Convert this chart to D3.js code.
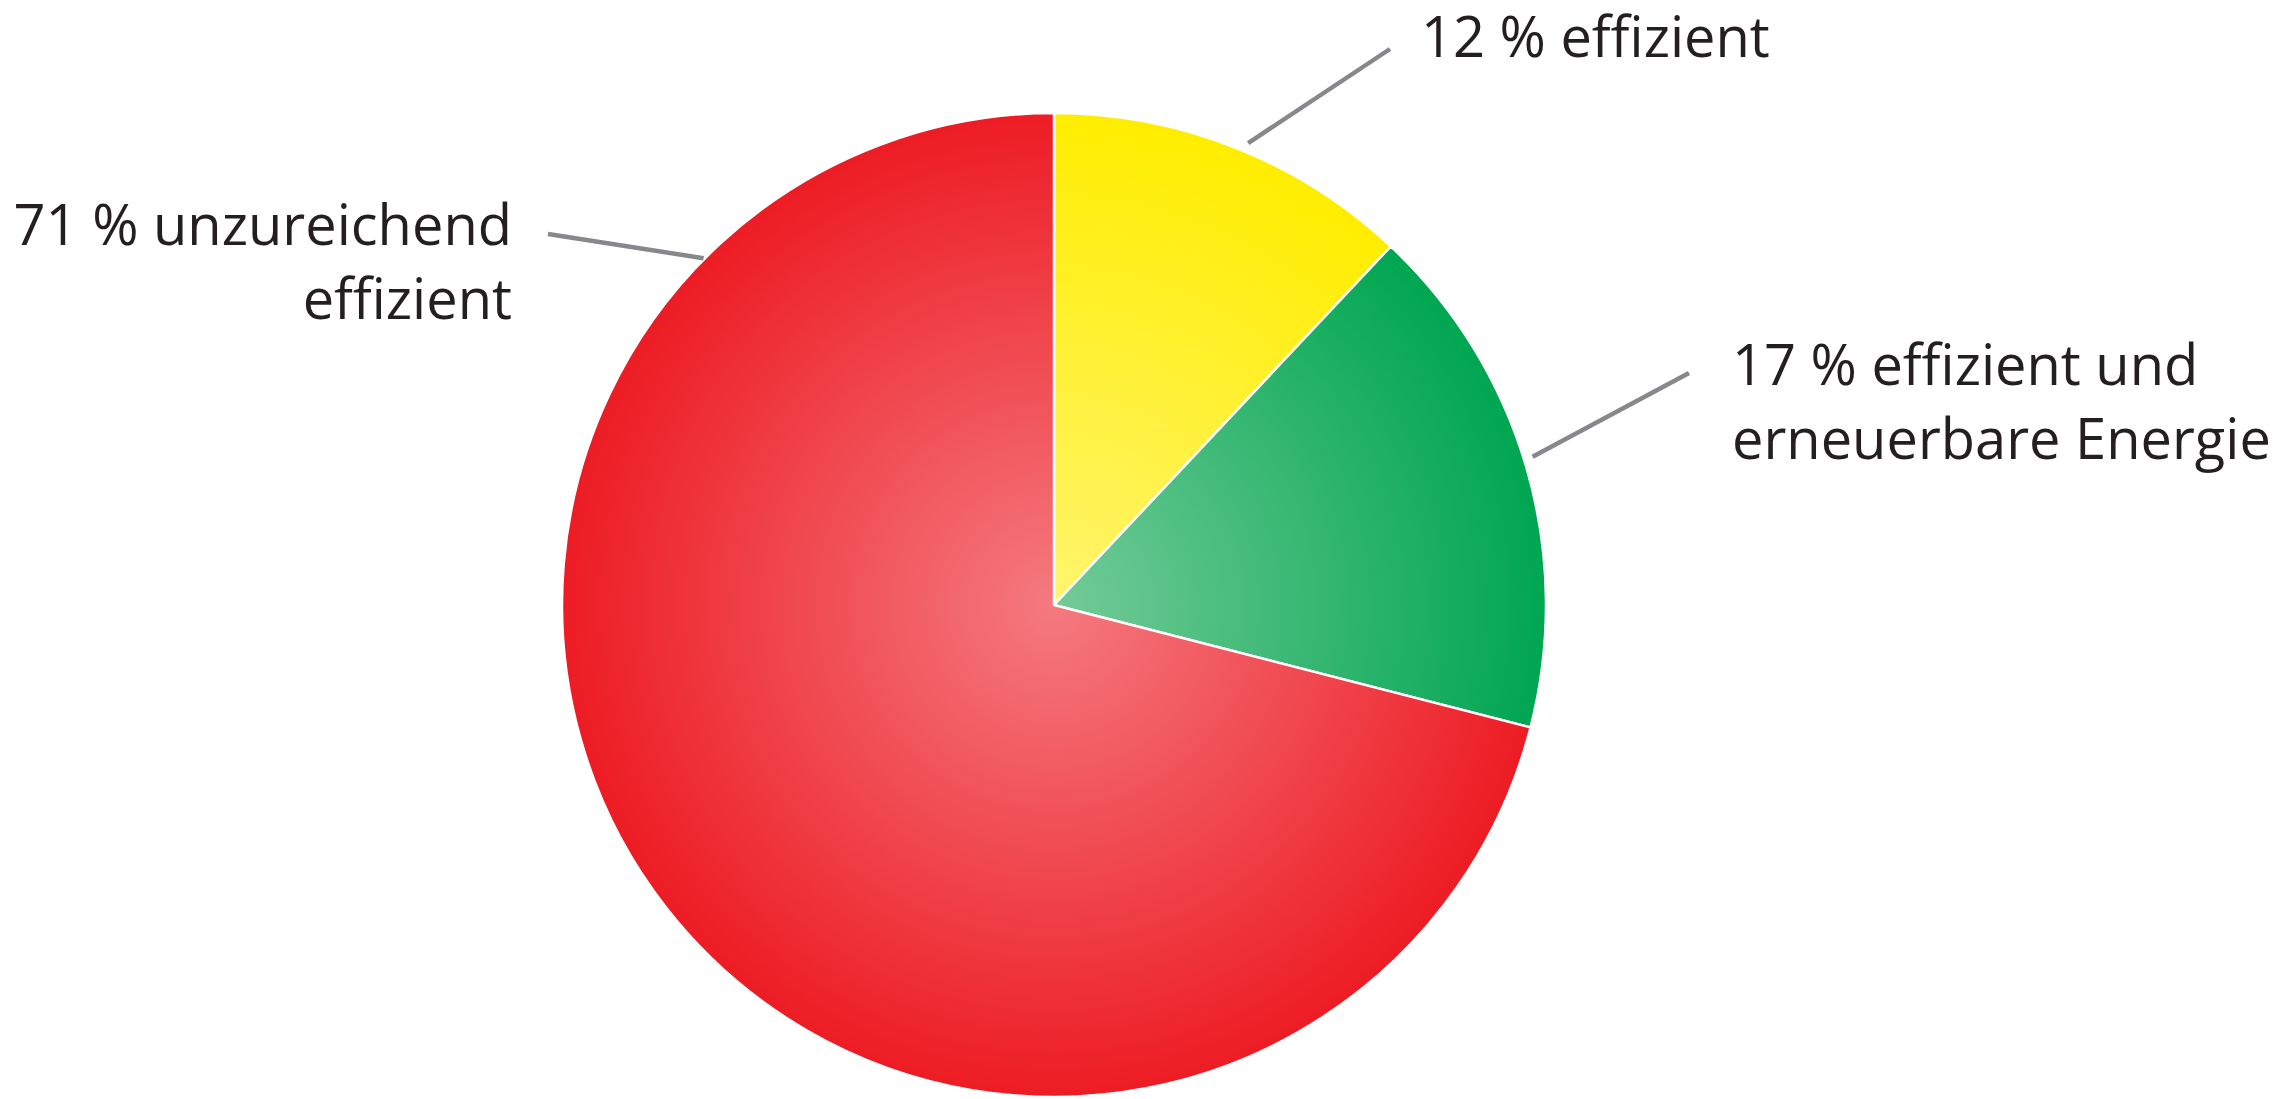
<!DOCTYPE html>
<html>
<head>
<meta charset="utf-8">
<script src="https://cdn.jsdelivr.net/npm/d3@7"></script>
<style>
html, body { margin: 0; padding: 0; background: #fff; }
svg { display: block; }
</style>
</head>
<body>
<svg id="chart" width="2293" height="1099"></svg>
<script>
// shares in percent, clockwise from 12 o'clock
var categories = ['effizient', 'effizient und erneuerbare Energie', 'unzureichend effizient'];
var values = [12, 17, 71];
var labelLines = [
	['12 % effizient'],
	['17 % effizient und', 'erneuerbare Energie'],
	['71 % unzureichend', 'effizient']
];
var edgeColors = ['#ffed00', '#00a651', '#ed1c24'];
var centerColors = ['#fff56e', '#74cb98', '#f47a80'];

var width = 2293, height = 1099;
var cx = 1054, cy = 605, radius = 492;

var svg = d3.select('#chart');
var defs = svg.append('defs');

// one radial gradient per slice, centred on the pie centre
for (var i = 0; i<values.length; i++) {
	var g = defs.append('radialGradient')
		.attr('id', 'grad' + i)
		.attr('gradientUnits', 'userSpaceOnUse')
		.attr('cx', 0).attr('cy', 0).attr('r', radius);
	g.append('stop').attr('offset', '0%').attr('stop-color', centerColors[i]);
	g.append('stop').attr('offset', '100%').attr('stop-color', edgeColors[i]);
}

var pie = d3.pie().sort(null).value(function (d) { return d; });
var arcs = pie(values);
var arc = d3.arc().innerRadius(0).outerRadius(radius);

var gPie = svg.append('g').attr('transform', 'translate(' + cx + ',' + cy + ')');
gPie.selectAll('path')
	.data(arcs)
	.enter().append('path')
	.attr('d', arc)
	.attr('fill', function (d, i) { return 'url(#grad' + i + ')'; })
	.attr('stroke', '#fff')
	.attr('stroke-width', 2.5)
	.attr('stroke-linejoin', 'round');

// leader lines: start at the rim, end next to the label
// offset (degrees) from the slice middle where the line leaves the pie
var leaderShift = [1.2, -1.0, 82.5];
var leaderEnd = [[1390, 49], [1689, 373], [548, 234]];
var leaderGap = [9, 9, 1];
for (var i = 0; i<arcs.length; i++) {
	var a = (arcs[i].startAngle + arcs[i].endAngle)/2 + leaderShift[i]*Math.PI/180;
	var r0 = radius + leaderGap[i];
	svg.append('line')
		.attr('x1', cx + r0*Math.sin(a))
		.attr('y1', cy - r0*Math.cos(a))
		.attr('x2', leaderEnd[i][0])
		.attr('y2', leaderEnd[i][1])
		.attr('stroke', '#87888b')
		.attr('stroke-width', 4.5);
}

// labels
var labelPos = [
	{x: 1421, y: 57, anchor: 'start'},
	{x: 1732, y: 385, anchor: 'start'},
	{x: 512, y: 245, anchor: 'end'}
];
var lineHeight = 74;
for (var i = 0; i<labelLines.length; i++) {
	var t = svg.append('text')
		.attr('x', labelPos[i].x)
		.attr('y', labelPos[i].y)
		.attr('text-anchor', labelPos[i].anchor)
		.attr('font-family', '"Open Sans", Lato, sans-serif')
		.attr('font-size', 56)
		.attr('fill', '#231f20');
	for (var j = 0; j<labelLines[i].length; j++) {
		t.append('tspan')
			.attr('x', labelPos[i].x)
			.attr('dy', j==0 ? 0 : lineHeight)
			.text(labelLines[i][j]);
	}
}
</script>
</body>
</html>
